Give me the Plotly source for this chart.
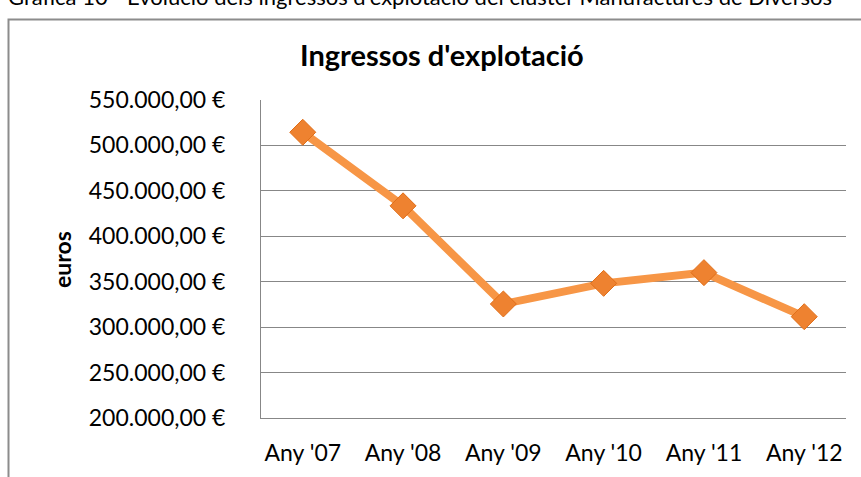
import plotly.graph_objects as go

categories = ["Any '07", "Any '08", "Any '09", "Any '10", "Any '11", "Any '12"]
ingressos = [514500, 433500, 325500, 348200, 360000, 311500]
y_tickvals = [200000, 250000, 300000, 350000, 400000, 450000, 500000, 550000]
y_ticktext = ["200.000,00 €", "250.000,00 €", "300.000,00 €", "350.000,00 €",
              "400.000,00 €", "450.000,00 €", "500.000,00 €", "550.000,00 €"]

W, H = 861, 477
L, R, T, B = 261, 15, 100, 59
pw, ph = W - L - R, H - T - B

def px_x(p):
    return (p - L) / pw

def px_y(p):
    return 1 + (T - p) / ph

FONT = "Lato"

fig = go.Figure()
fig.add_trace(go.Scatter(
    x=categories, y=ingressos, mode="lines+markers",
    line=dict(color="#F79646", width=8),
    marker=dict(symbol="diamond", size=20, color="#EE8230",
                line=dict(color="#E06E18", width=1)),
    showlegend=False, cliponaxis=False,
))

fig.update_layout(
    width=W, height=H,
    margin=dict(l=L, r=R, t=T, b=B),
    paper_bgcolor="white", plot_bgcolor="white",
    font=dict(family=FONT, size=23, color="black"),
    xaxis=dict(showgrid=False, showline=True, linecolor="#878787", linewidth=1,
               ticks="", ticklabelstandoff=14, zeroline=False,
               tickfont=dict(family=FONT, size=23)),
    yaxis=dict(range=[200000, 550000], tickvals=y_tickvals, ticktext=y_ticktext,
               showgrid=True, gridcolor="#878787", gridwidth=1,
               showline=True, linecolor="#878787", linewidth=1,
               ticks="", ticklabelstandoff=30, zeroline=False,
               tickfont=dict(family=FONT, size=23)),
    shapes=[dict(type="rect", xref="paper", yref="paper",
                 x0=px_x(8.5), x1=px_x(875), y0=px_y(495), y1=px_y(19.5),
                 line=dict(color="#8c8c8c", width=2), fillcolor="rgba(0,0,0,0)",
                 layer="below")],
    annotations=[
        dict(text="<b>Ingressos d'explotació</b>", xref="paper", yref="paper",
             x=px_x(442), y=px_y(54), xanchor="center", yanchor="middle",
             showarrow=False, font=dict(family=FONT, size=29, color="black")),
        dict(text="<b>euros</b>", xref="paper", yref="paper",
             x=px_x(62), y=px_y(260), xanchor="center", yanchor="middle",
             textangle=-90, showarrow=False,
             font=dict(family=FONT, size=23, color="black")),
        dict(text="Gràfica 10 - Evolució dels ingressos d'explotació del clúster Manufactures de Diversos",
             xref="paper", yref="paper", x=px_x(6), y=px_y(-4),
             xanchor="left", yanchor="middle", showarrow=False,
             font=dict(family=FONT, size=22, color="black")),
    ],
)

fig.write_html("out.html", config={"displayModeBar": False},
               post_script="document.body.style.margin='0';")
